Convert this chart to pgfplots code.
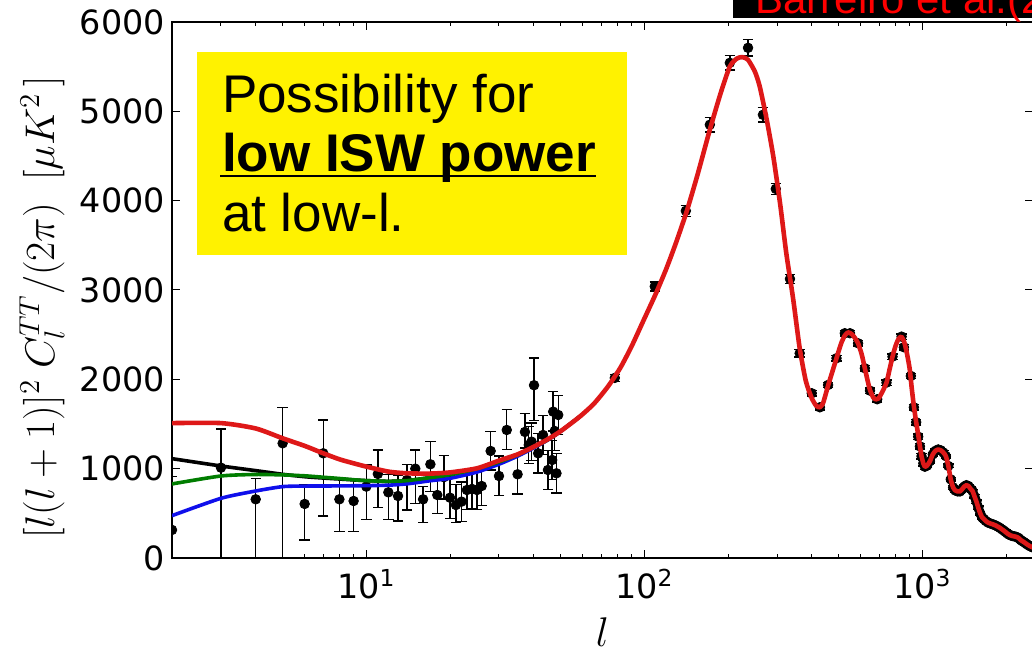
\documentclass[border=0pt]{standalone}
\usepackage{pgfplots}
\usepackage{pgfplotstable}
\pgfplotsset{compat=1.18}
\usepackage{fontspec}
\setmainfont{Liberation Sans}
\newfontfamily\dejavu{DejaVu Sans}

\definecolor{modelred}{RGB}{222,24,24}
\definecolor{modelgreen}{RGB}{0,125,0}
\definecolor{modelblue}{RGB}{15,15,235}

% low-l measurements with asymmetric errors
\pgfplotstableread{
l     D     ep   em
2     314   600  314
3     1011  433  1011
4     657   235  657
5     1284  399  1284
6     605   212  403
7     1172  373  702
8     657   224  362
9     638   232  343
10    799   242  366
11    941   268  374
12    735   202  302
13    694   235  280
14    873   176  336
15    1000  209  388
16    657   142  257
17    1049  253  306
18    705   224  205
19    905   245  245
20    675   247  231
21    593   230  193
22    631   220  221
23    761   219  221
24    773   217  223
25    761   219  216
26    806   214  216
28    1198  217  213
30    918   222  218
32    1433  232  218
35    937   223  222
37.2  1411  209  179
38.4  1265  210  210
39.3  1302  210  210
40.1  1934  306  394
41.5  1172  220  220
43.2  1377  220  220
45    985   220  220
46.6  1097  220  220
47    1638  224  218
47.6  1422  220  220
48.3  948   220  220
49    1601  220  220
}\lowl

% binned measurements at higher l
\pgfplotstableread{
l     D     e
78.3  2016  40
109   3040  50
141   3886  60
172   4850  80
203   5543  80
236   5711  90
267   4961  80
297   4132  60
334   3124  50
362   2292  40
400   1844  30
428   1687  30
458   1937  30
491   2236  30
526   2516  30
549   2516  30
587   2404  30
621   2124  30
648   1873  30
688   1777  30
743   1963  30
781   2254  30
842   2478  30
858   2359  30
909   2038  30
932   1687  30
950   1520  30
966   1358  30
980   1250  30
993   1140  30
1008  1060  30
1021  1022  30
1040  1035  20
1065  1085  20
1090  1160  20
1115  1200  20
1140  1215  20
1165  1205  20
1190  1180  20
1215  1140  20
1240  1030  20
1265  880   20
1290  790   20
1315  755   20
1340  745   20
1365  745   20
1390  770   20
1415  800   20
1440  815   20
1465  805   20
1490  775   20
1515  750   20
1540  690   20
1565  630   20
1590  560   20
1615  500   20
1640  455   20
1665  435   20
1690  415   20
1720  398   20
1750  388   20
1780  380   20
1810  372   20
1840  362   20
1870  350   20
1900  338   20
1930  322   20
1960  308   20
1990  292   20
2020  275   20
2050  262   20
2080  252   20
2110  246   20
2140  242   20
2170  238   20
2200  230   20
2230  218   20
2260  200   20
2290  188   20
2320  178   20
2350  165   20
2380  153   20
2410  142   20
2440  132   20
2470  124   20
2500  118   20
}\highl

% fiducial model spectrum
\pgfplotstableread{
l     D
2     1510
3     1510
4     1450
5     1340
6     1255
7     1172
8     1105
9     1060
10    1023
12    967
14    948
17    945
20    958
25    1004
30    1090
35    1160
40    1245
45    1330
50    1420
58.6  1583
66    1730
74    1920
82    2130
90    2370
99    2650
110   2960
120   3240
130   3530
142   3880
155   4280
172   4793
188   5200
203   5502
215   5590
225   5607
236   5577
250   5442
260   5278
275   4920
291   4494
308   3960
324   3412
343   2900
362   2350
381   1980
400   1790
415   1705
428   1687
440   1740
458   1930
475   2090
491   2236
510   2400
526   2490
540   2525
555   2510
570   2470
587   2404
605   2280
621   2124
635   1990
648   1880
665   1800
680   1775
695   1785
715   1850
743   1963
762   2110
781   2254
800   2370
820   2450
840   2478
860   2420
880   2290
900   2120
915   1910
932   1700
950   1520
966   1380
980   1250
993   1140
1008  1060
1021  1022
1040  1035
1065  1085
1090  1160
1115  1200
1140  1215
1165  1205
1190  1180
1215  1140
1240  1030
1265  880
1290  790
1315  755
1340  745
1365  745
1390  770
1415  800
1440  815
1465  805
1490  775
1515  750
1540  690
1565  630
1590  560
1615  500
1640  455
1665  435
1690  415
1720  398
1750  388
1780  380
1810  372
1840  362
1870  350
1900  338
1930  322
1960  308
1990  292
2020  275
2050  262
2080  252
2110  246
2140  242
2170  238
2200  230
2230  218
2260  200
2290  188
2320  178
2350  165
2380  153
2410  142
2440  132
2470  124
2500  118
}\modelA

% alternative low-l models
\pgfplotstableread{
l     D
2     1112
3     1030
4     978
5     937
6     910
7     895
8     884
9     874
10    866
12    858
14    866
17    900
20    932
25    1000
30    1075
35    1155
40    1240
45    1325
50    1420
58.6  1583
}\modelB

\pgfplotstableread{
l     D
2     829
3     918
4     935
5     930
6     920
7     904
8     890
9     876
10    866
12    858
14    866
17    900
20    932
25    1000
30    1075
35    1155
40    1240
45    1325
50    1420
58.6  1583
}\modelC

\pgfplotstableread{
l     D
2     474
3     668
4     750
5     799
6     805
7     806
8     807
10    810
12    815
14    830
17    865
20    892
25    962
30    1050
35    1140
40    1232
45    1322
50    1418
58.6  1583
}\modelD

\begin{document}
\begin{tikzpicture}
\path[use as bounding box] (0,0) rectangle (516pt,325.5pt);
\clip (0,0) rectangle (516pt,325.5pt);

\begin{axis}[
  at={(86pt,46.5pt)}, anchor=south west,
  scale only axis, width=430.5pt, height=268pt,
  xmode=log, xmin=2, xmax=2500, ymin=0, ymax=6000,
  clip marker paths=true,
  xtick={10,100,1000},
  xticklabels={10\textsuperscript{1},10\textsuperscript{2},10\textsuperscript{3}},
  minor xtick={2,3,4,5,6,7,8,9,20,30,40,50,60,70,80,90,200,300,400,500,600,700,800,900,2000},
  ytick={0,1000,2000,3000,4000,5000,6000},
  yticklabels={0,1000,2000,3000,4000,5000,6000},
  tick align=inside,
  major tick length=4pt, minor tick length=2pt,
  every tick/.style={black, line width=0.5pt},
  axis line style={line width=0.75pt},
  ticklabel style={font=\dejavu\fontsize{16.7}{20}\selectfont},
  xticklabel style={yshift=-2pt},
  xlabel={$l$},
  ylabel={$[l(l+1)]^2\ C_l^{TT}/(2\pi)\ \ [\mu K^2\,]$},
  label style={font=\fontsize{20}{24}\selectfont, inner sep=0pt},
  xlabel style={at={(axis description cs:0.5,-0.138)}, anchor=center},
  ylabel style={at={(axis description cs:-0.151,0.468)}, anchor=center},
]
% measurements
\addplot[only marks, mark=*, mark size=2.4pt, black, mark options={fill=black},
  error bars/.cd, y dir=both, y explicit,
  error bar style={line width=0.7pt, black},
  error mark options={black, rotate=90, line width=0.7pt, mark size=2.6pt}]
  table[x=l, y=D, y error plus=ep, y error minus=em] {\lowl};
\addplot[only marks, mark=*, mark size=2.4pt, black, mark options={fill=black},
  error bars/.cd, y dir=both, y explicit,
  error bar style={line width=0.7pt, black},
  error mark options={black, rotate=90, line width=0.7pt, mark size=2.6pt}]
  table[x=l, y=D, y error=e] {\highl};
% model spectra
\addplot[no marks, black, line width=1.8pt, line join=round, smooth, tension=0.4] table[x=l, y=D] {\modelB};
\addplot[no marks, modelblue, line width=1.8pt, line join=round, smooth, tension=0.4] table[x=l, y=D] {\modelD};
\addplot[no marks, modelgreen, line width=1.8pt, line join=round, smooth, tension=0.4] table[x=l, y=D] {\modelC};
\addplot[no marks, modelred, line width=2.3pt, line join=round, smooth, tension=0.4] table[x=l, y=D] {\modelA};
\end{axis}

% annotation box
\fill[yellow] (98.35pt,198pt) rectangle (313.65pt,299.65pt);
\node[anchor=base west, inner sep=0pt, font=\fontsize{26.5}{30}\selectfont] at (110.85pt,269.15pt) {Possibility for};
\node[anchor=base west, inner sep=0pt, font=\fontsize{26.5}{30}\selectfont\bfseries] at (110.85pt,239.65pt) {low ISW power};
\draw[line width=1.3pt] (110pt,237.5pt) -- (298pt,237.5pt);
\node[anchor=base west, inner sep=0pt, font=\fontsize{26.5}{30}\selectfont] at (110.85pt,209.65pt) {at low-l.};

% reference tag
\fill[black] (366.5pt,316.35pt) rectangle (520pt,330pt);
\node[anchor=base west, inner sep=0pt, text=red, font=\fontsize{21}{25}\selectfont] at (377.5pt,318.5pt) {Barreiro et al.(2013)};
\end{tikzpicture}
\end{document}
